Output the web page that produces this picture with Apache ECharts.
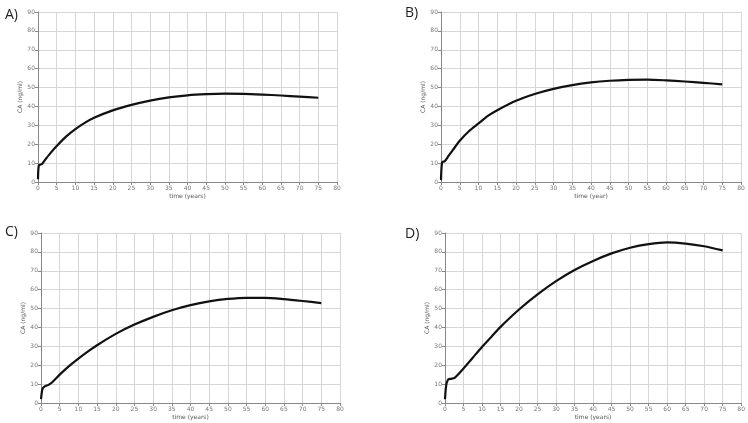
<!DOCTYPE html>
<html>
<head>
<meta charset="utf-8">
<script src="https://cdn.jsdelivr.net/npm/echarts@6/dist/echarts.min.js"></script>
<style>
  html, body { margin: 0; padding: 0; background: #fff; }
  #main { width: 748px; height: 423px; }
</style>
</head>
<body>
<div id="main"></div>
<script>
// panel letters and axis names
var panelLabels = ['A)', 'B)', 'C)', 'D)'];
var xNames = ['time (years)', 'time (year)', 'time (years)', 'time (years)'];
var yName = 'CA (ng/ml)';

// time points (years) for each panel
var tA = [0, 0.25, 1, 2, 3, 5, 7.5, 10, 12.5, 15, 20, 25, 30, 35, 40, 45, 50, 55, 60, 65, 70, 75];
var tB = [0, 0.3, 1, 2, 3, 5, 7.5, 10, 12.5, 15, 20, 25, 30, 35, 40, 45, 50, 55, 60, 65, 70, 75];
var tC = [0, 0.4, 1, 2, 3, 5, 7.5, 10, 12.5, 15, 20, 25, 30, 35, 40, 45, 50, 55, 60, 65, 70, 75];
var tD = [0, 0.3, 0.8, 1.5, 2.5, 3, 5, 7.5, 10, 12.5, 15, 20, 25, 30, 35, 40, 45, 50, 55, 60, 65, 70, 75];

// CA values (ng/ml)
var caA = [1.5, 9, 9.4, 12, 14.5, 19, 24, 28, 31.3, 34, 37.9, 40.8, 43.1, 44.8, 45.9, 46.5, 46.8, 46.7, 46.3, 45.8, 45.2, 44.6];
var caB = [1, 10.5, 11, 13.8, 16.5, 21.8, 27, 31, 35, 38, 43, 46.6, 49.3, 51.3, 52.7, 53.6, 54.1, 54.2, 53.8, 53.2, 52.5, 51.7];
var caC = [2, 7.5, 8.8, 9.6, 11, 15, 19.5, 23.5, 27.2, 30.6, 36.6, 41.5, 45.6, 49.1, 51.8, 53.8, 55.1, 55.7, 55.7, 55, 54, 52.9];
var caD = [2, 9, 12.3, 12.8, 13.2, 14, 18.3, 24, 29.7, 35, 40.3, 49.5, 57.5, 64.5, 70.4, 75.2, 79.2, 82.2, 84.1, 85, 84.4, 83, 80.8];

var times = [tA, tB, tC, tD];
var values = [caA, caB, caC, caD];

var chart = echarts.init(document.getElementById('main'));

var boxes = [
  { left: 38, top: 12, width: 299, height: 170 },
  { left: 441, top: 12, width: 300, height: 170 },
  { left: 41, top: 233, width: 299, height: 170 },
  { left: 445, top: 233, width: 299, height: 170 }
];
var labelPos = [[0, 3], [400, 1], [0, 220], [400, 222]];

var tickFont = { fontSize: 6, color: '#777', fontFamily: 'DejaVu Sans' };

var grids = [], xAxes = [], yAxes = [], series = [], titles = [];
for (var i = 0; i < 4; i++) {
  grids.push(boxes[i]);
  xAxes.push({
    type: 'value', gridIndex: i, min: 0, max: 80, interval: 5,
    name: xNames[i], nameLocation: 'middle', nameGap: 11,
    nameTextStyle: { fontSize: 6, color: '#555', fontFamily: 'DejaVu Sans' },
    axisLine: { show: true, lineStyle: { color: '#888', width: 1 } },
    axisTick: { show: true, length: 3, lineStyle: { color: '#888' } },
    axisLabel: Object.assign({ margin: 3 }, tickFont),
    splitLine: { show: true, lineStyle: { color: '#d6d6d6', width: 1 } }
  });
  yAxes.push({
    type: 'value', gridIndex: i, min: 0, max: 90, interval: 10,
    name: yName, nameLocation: 'middle', nameGap: 15,
    nameTextStyle: { fontSize: 6, color: '#555', fontFamily: 'DejaVu Sans' },
    axisLine: { show: true, lineStyle: { color: '#888', width: 1 } },
    axisTick: { show: true, length: 3, lineStyle: { color: '#888' } },
    axisLabel: Object.assign({ margin: 3 }, tickFont),
    splitLine: { show: true, lineStyle: { color: '#d6d6d6', width: 1 } }
  });
  series.push({
    type: 'line', xAxisIndex: i, yAxisIndex: i,
    data: times[i].map(function (t, k) { return [t, values[i][k]]; }),
    showSymbol: false, smooth: 0.25,
    lineStyle: { color: '#111', width: 2.2 }
  });
  titles.push({
    text: panelLabels[i], left: labelPos[i][0], top: labelPos[i][1],
    textStyle: { fontSize: 14, fontWeight: 'normal', color: '#222', fontFamily: 'Open Sans' }
  });
}

var option = {
  backgroundColor: '#fff',
  animation: false,
  title: titles,
  grid: grids,
  xAxis: xAxes,
  yAxis: yAxes,
  series: series
};
chart.setOption(option);
window.addEventListener('resize', function () {
  chart.resize();
});
</script>
</body>
</html>
